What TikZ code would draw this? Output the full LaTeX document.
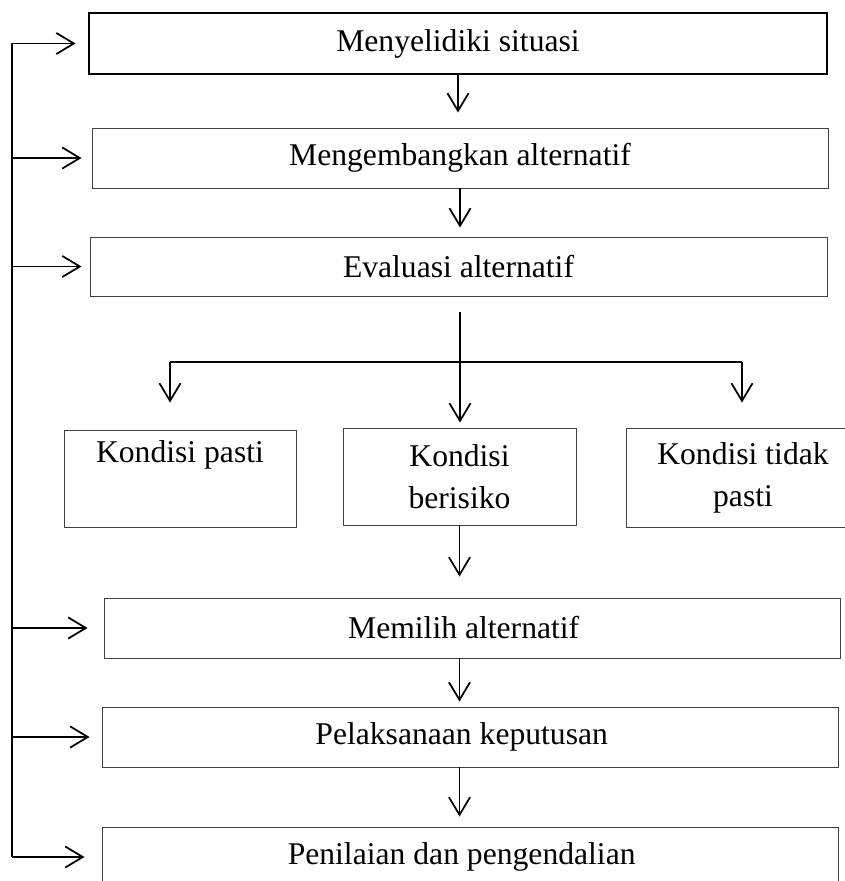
\documentclass[tikz,border=0pt]{standalone}
\usepackage{fontspec}
\setmainfont{Liberation Serif}
\usetikzlibrary{arrows.meta}

\begin{document}
\begin{tikzpicture}[x=0.03cm, y=-0.03cm,
    >={Straight Barb[length=15pt,width=18pt]},
    kotak/.style={draw=black!75, line width=0.8pt, inner sep=0pt, align=center,
        font=\fontsize{27pt}{35.7pt}\selectfont},
    panah/.style={->, line width=1.5pt}]
    \useasboundingbox (0,0) rectangle (844,881);

    % Kotak tahap atas
    \node[kotak, draw=black, line width=2.4pt, minimum width=22.14cm, minimum height=1.83cm] (selidik) at (458,43.5) {Menyelidiki situasi};
    \node[kotak, minimum width=22.08cm, minimum height=1.8cm] (kembang) at (460,158) {Mengembangkan alternatif};
    \node[kotak, minimum width=22.11cm, minimum height=1.77cm] (evaluasi) at (458.5,266.5) {Evaluasi alternatif};

    % Tiga kondisi
    \node[kotak, minimum width=6.96cm, minimum height=2.91cm] (pasti) at (180,478.5) {Kondisi pasti\\\strut};
    \node[kotak, minimum width=6.99cm, minimum height=2.91cm] (risiko) at (459.5,476.5) {Kondisi\\berisiko};
    \node[kotak, minimum width=7.02cm, minimum height=2.97cm] (tidak) at (743,477.5) {Kondisi tidak\\pasti};

    % Kotak tahap bawah
    \node[kotak, minimum width=22.08cm, minimum height=1.8cm] (memilih) at (472,628) {Memilih alternatif\hspace*{0.5cm}};
    \node[kotak, minimum width=22.08cm, minimum height=1.8cm] (pelaksana) at (470,737) {Pelaksanaan keputusan\hspace*{0.5cm}};
    \node[kotak, minimum width=22.08cm, minimum height=1.8cm] (penilaian) at (470,857) {Penilaian dan pengendalian\hspace*{0.5cm}};

    % Panah ke bawah
    \draw[panah, shorten >=0.45cm] (selidik) -- (selidik |- kembang.north);
    \draw[panah, shorten >=0.27cm] (kembang) -- (kembang |- evaluasi.north);
    \coordinate (cabang) at (460,312);
    \draw[panah, shorten >=0.15cm] (cabang) -- (cabang |- risiko.north);
    \coordinate (kiri) at (170,362);
    \coordinate (kanan) at (742,362);
    \draw[line width=1.5pt] (kiri) -- (kanan);
    \draw[panah, shorten >=0.81cm] (kiri) -- (kiri |- pasti.north);
    \draw[panah, shorten >=0.75cm] (kanan) -- (kanan |- tidak.north);
    \draw[panah, shorten >=0.63cm] (risiko) -- (risiko |- memilih.north);
    \draw[panah, shorten >=0.15cm] (memilih.south -| risiko) -- (pelaksana.north -| risiko);
    \draw[panah, shorten >=0.3cm] (pelaksana.south -| risiko) -- (penilaian.north -| risiko);

    % Garis umpan balik
    \coordinate (atas) at (12,43.5);
    \coordinate (bawah) at (12,857);
    \draw[line width=1.5pt] (atas) -- (bawah);
    \foreach \n/\g in {selidik/0.36cm, kembang/0.3cm, evaluasi/0.24cm,
                       memilih/0.48cm, pelaksana/0.36cm, penilaian/0.51cm}
        \draw[panah, shorten >=\g] (atas |- \n.west) -- (\n.west);
\end{tikzpicture}
\end{document}
